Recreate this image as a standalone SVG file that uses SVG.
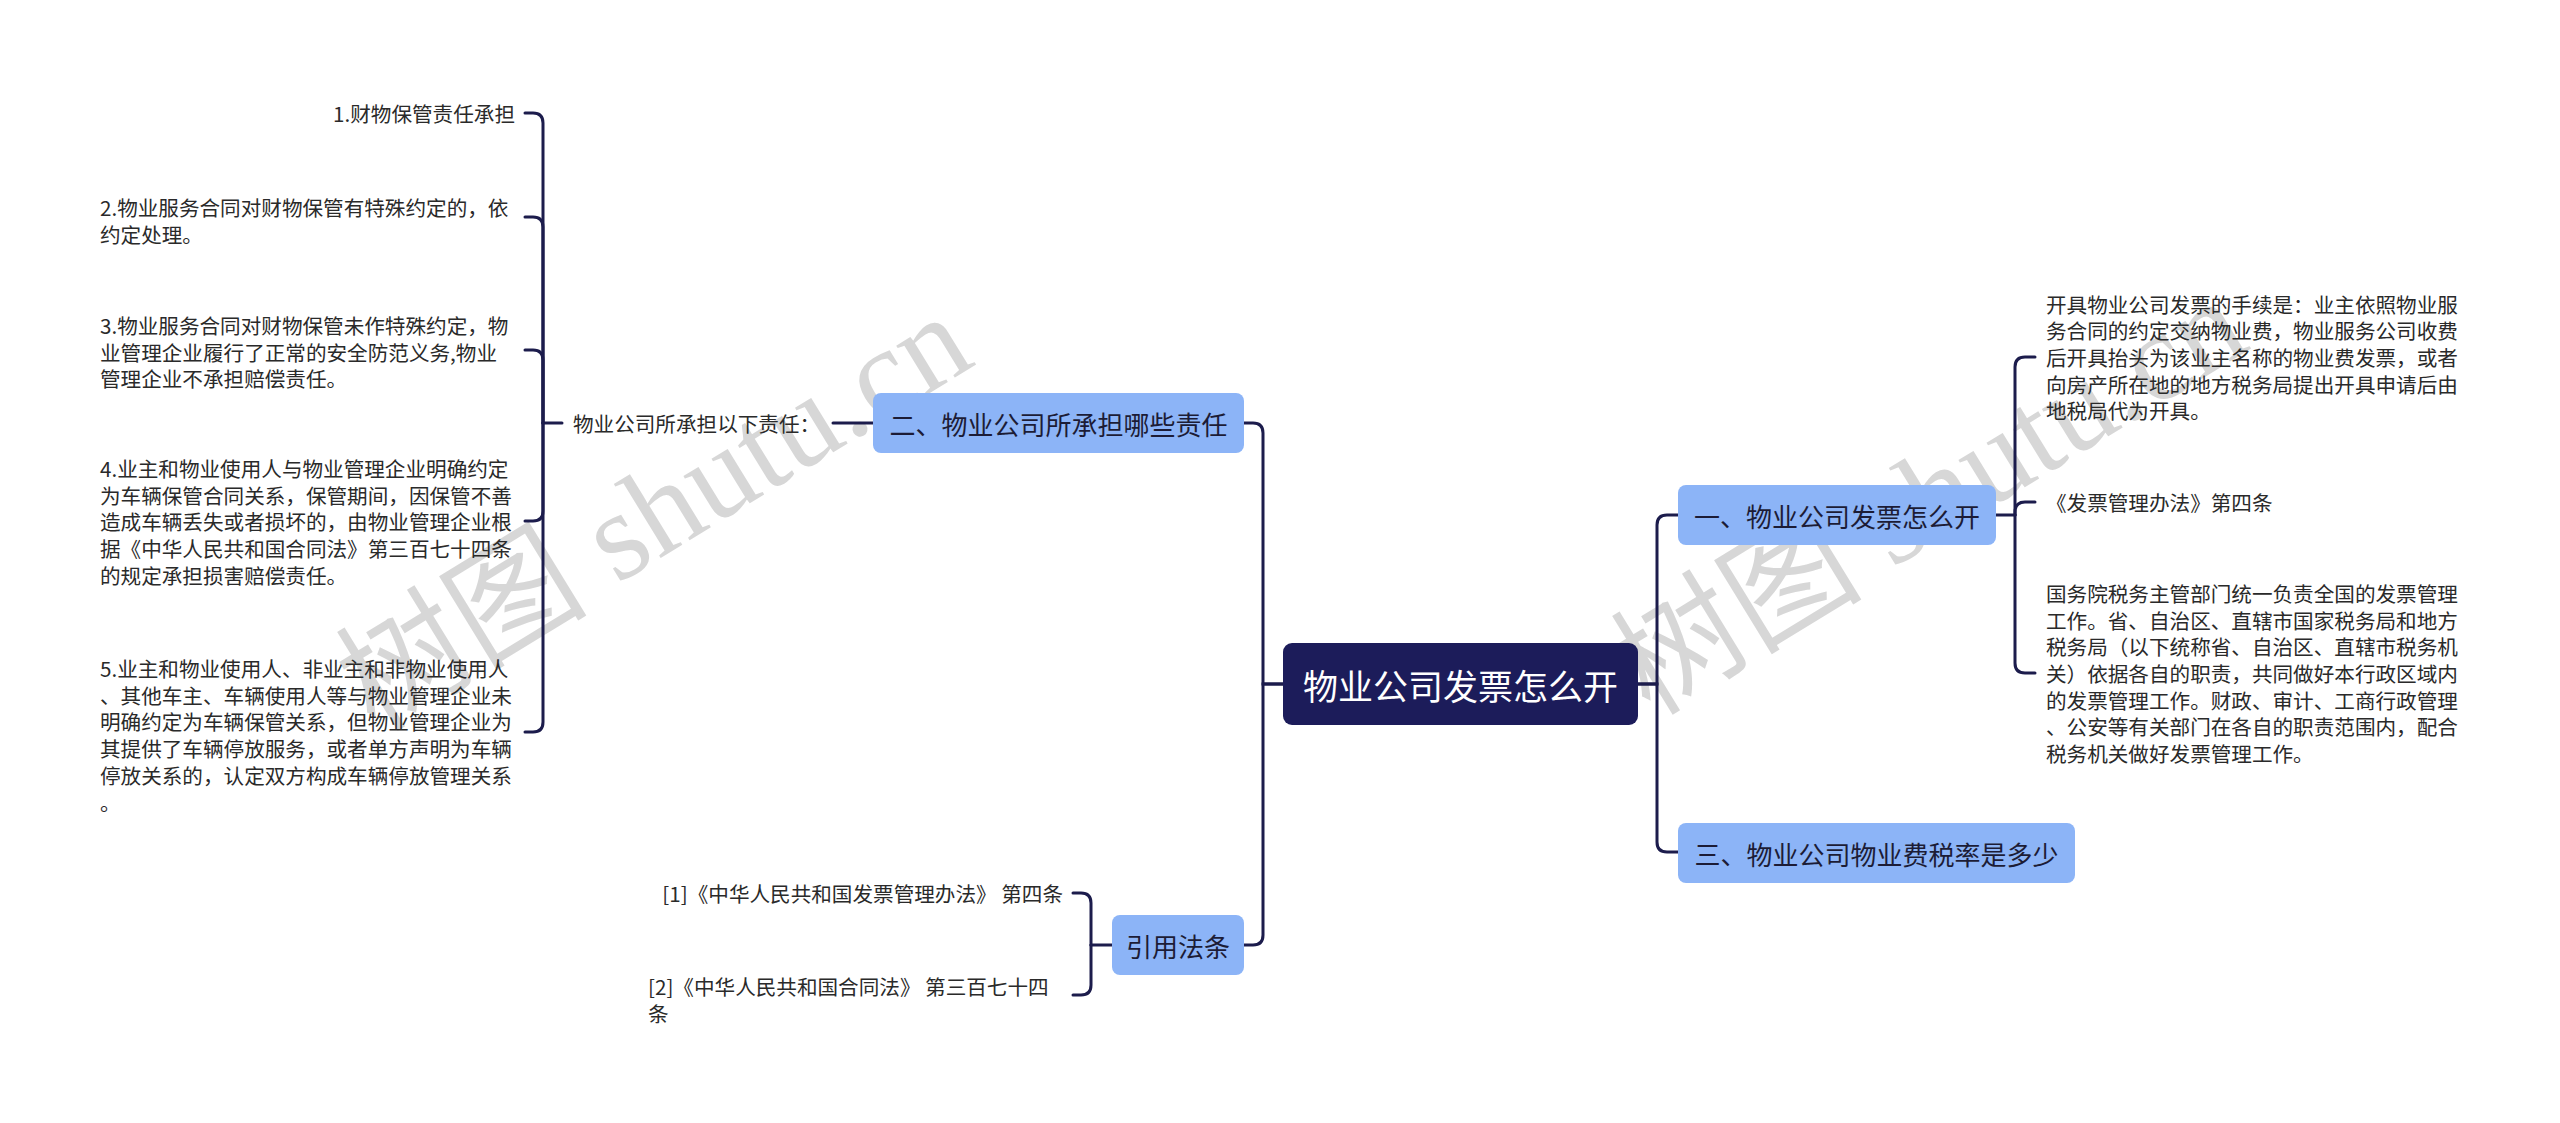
<svg xmlns="http://www.w3.org/2000/svg" width="2560" height="1123" viewBox="0 0 2560 1123">
<style>
.wm{font-family:"Liberation Serif","Noto Sans CJK SC",serif;font-size:126px;fill:#c8c8c8;opacity:0.72}
.ln{fill:none;stroke:#1c1c4c;stroke-width:3;stroke-linecap:round}
.root{fill:#1c1c5a}
.rootT{font-family:"Noto Sans CJK SC","Noto Sans",sans-serif;font-size:35px;fill:#ffffff}
.box{fill:#8cb4f7}
.boxT{font-family:"Noto Sans CJK SC","Noto Sans",sans-serif;font-size:26px;fill:#1c1c36}
.leaf{font-family:"Noto Sans CJK SC","Noto Sans",sans-serif;font-size:20.6px;fill:#2a2a2a}
</style>
<rect width="2560" height="1123" fill="#ffffff"/>
<g id="watermark">
<text class="wm" transform="translate(375,733) rotate(-31.5)">树图 shutu.cn</text>
<text class="wm" transform="translate(1650,717) rotate(-31.5)">树图 shutu.cn</text>
</g>
<g id="connectors">
<path class="ln" d="M1283,684 H1263 V433 Q1263,423 1253,423 H1244"/>
<path class="ln" d="M1283,684 H1263 V935 Q1263,945 1253,945 H1244"/>
<path class="ln" d="M1638,684 H1657 V525 Q1657,515 1667,515 H1678"/>
<path class="ln" d="M1638,684 H1657 V842 Q1657,852 1667,852 H1678"/>
<path class="ln" d="M873,423 H833"/>
<path class="ln" d="M562,423 H543"/>
<path class="ln" d="M543,423 V123 Q543,113 533,113 H525"/>
<path class="ln" d="M543,423 V227 Q543,217 533,217 H525"/>
<path class="ln" d="M543,423 V360 Q543,350 533,350 H525"/>
<path class="ln" d="M543,423 V511 Q543,521 533,521 H525"/>
<path class="ln" d="M543,423 V722 Q543,732 533,732 H525"/>
<path class="ln" d="M1996,515 H2015"/>
<path class="ln" d="M2015,515 V367 Q2015,357 2025,357 H2035"/>
<path class="ln" d="M2015,515 V512 Q2015,502 2025,502 H2035"/>
<path class="ln" d="M2015,515 V663 Q2015,673 2025,673 H2035"/>
<path class="ln" d="M1112,945 H1091"/>
<path class="ln" d="M1091,945 V903 Q1091,893 1081,893 H1073"/>
<path class="ln" d="M1091,945 V985 Q1091,995 1081,995 H1073"/>
</g>
<g id="root">
<rect class="root" x="1283" y="643" width="355" height="82" rx="9"/>
<text class="rootT" x="1460.5" y="684" text-anchor="middle" dominant-baseline="central">物业公司发票怎么开</text>
</g>
<g id="b2">
<rect class="box" x="873" y="393" width="371" height="60" rx="8"/>
<text class="boxT" x="1058.5" y="423" text-anchor="middle" dominant-baseline="central">二、物业公司所承担哪些责任</text>
</g>
<g id="label">
<text class="leaf" x="573" y="423" dominant-baseline="central">物业公司所承担以下责任：</text>
</g>
<g id="item1">
<text class="leaf" x="515" y="113" text-anchor="end" dominant-baseline="central">1.财物保管责任承担</text>
</g>
<g id="item2">
<text class="leaf" dominant-baseline="central"><tspan x="100" y="207">2.物业服务合同对财物保管有特殊约定的，依</tspan><tspan x="100" y="233.7">约定处理。</tspan></text>
</g>
<g id="item3">
<text class="leaf" dominant-baseline="central"><tspan x="100" y="325">3.物业服务合同对财物保管未作特殊约定，物</tspan><tspan x="100" y="351.7">业管理企业履行了正常的安全防范义务,物业</tspan><tspan x="100" y="378.4">管理企业不承担赔偿责任。</tspan></text>
</g>
<g id="item4">
<text class="leaf" dominant-baseline="central"><tspan x="100" y="468">4.业主和物业使用人与物业管理企业明确约定</tspan><tspan x="100" y="494.7">为车辆保管合同关系，保管期间，因保管不善</tspan><tspan x="100" y="521.4">造成车辆丢失或者损坏的，由物业管理企业根</tspan><tspan x="100" y="548.1">据《中华人民共和国合同法》第三百七十四条</tspan><tspan x="100" y="574.8">的规定承担损害赔偿责任。</tspan></text>
</g>
<g id="item5">
<text class="leaf" dominant-baseline="central"><tspan x="100" y="668">5.业主和物业使用人、非业主和非物业使用人</tspan><tspan x="100" y="694.7">、其他车主、车辆使用人等与物业管理企业未</tspan><tspan x="100" y="721.4">明确约定为车辆保管关系，但物业管理企业为</tspan><tspan x="100" y="748.1">其提供了车辆停放服务，或者单方声明为车辆</tspan><tspan x="100" y="774.8">停放关系的，认定双方构成车辆停放管理关系</tspan><tspan x="100" y="801.5">。</tspan></text>
</g>
<g id="b4">
<rect class="box" x="1112" y="915" width="132" height="60" rx="8"/>
<text class="boxT" x="1178" y="945" text-anchor="middle" dominant-baseline="central">引用法条</text>
</g>
<g id="ref1">
<text class="leaf" x="1063" y="893" text-anchor="end" dominant-baseline="central">[1]《中华人民共和国发票管理办法》 第四条</text>
</g>
<g id="ref2">
<text class="leaf" dominant-baseline="central"><tspan x="648" y="986">[2]《中华人民共和国合同法》 第三百七十四</tspan><tspan x="648" y="1012.7">条</tspan></text>
</g>
<g id="b1">
<rect class="box" x="1678" y="485" width="318" height="60" rx="8"/>
<text class="boxT" x="1837" y="515" text-anchor="middle" dominant-baseline="central">一、物业公司发票怎么开</text>
</g>
<g id="t1">
<text class="leaf" dominant-baseline="central"><tspan x="2046" y="303.6">开具物业公司发票的手续是：业主依照物业服</tspan><tspan x="2046" y="330.3">务合同的约定交纳物业费，物业服务公司收费</tspan><tspan x="2046" y="357">后开具抬头为该业主名称的物业费发票，或者</tspan><tspan x="2046" y="383.7">向房产所在地的地方税务局提出开具申请后由</tspan><tspan x="2046" y="410.4">地税局代为开具。</tspan></text>
</g>
<g id="t2">
<text class="leaf" x="2046" y="502" dominant-baseline="central">《发票管理办法》第四条</text>
</g>
<g id="t3">
<text class="leaf" dominant-baseline="central"><tspan x="2046" y="593">国务院税务主管部门统一负责全国的发票管理</tspan><tspan x="2046" y="619.7">工作。省、自治区、直辖市国家税务局和地方</tspan><tspan x="2046" y="646.4">税务局（以下统称省、自治区、直辖市税务机</tspan><tspan x="2046" y="673">关）依据各自的职责，共同做好本行政区域内</tspan><tspan x="2046" y="699.7">的发票管理工作。财政、审计、工商行政管理</tspan><tspan x="2046" y="726.4">、公安等有关部门在各自的职责范围内，配合</tspan><tspan x="2046" y="753">税务机关做好发票管理工作。</tspan></text>
</g>
<g id="b3">
<rect class="box" x="1678" y="823" width="397" height="60" rx="8"/>
<text class="boxT" x="1876.5" y="853" text-anchor="middle" dominant-baseline="central">三、物业公司物业费税率是多少</text>
</g>
</svg>
